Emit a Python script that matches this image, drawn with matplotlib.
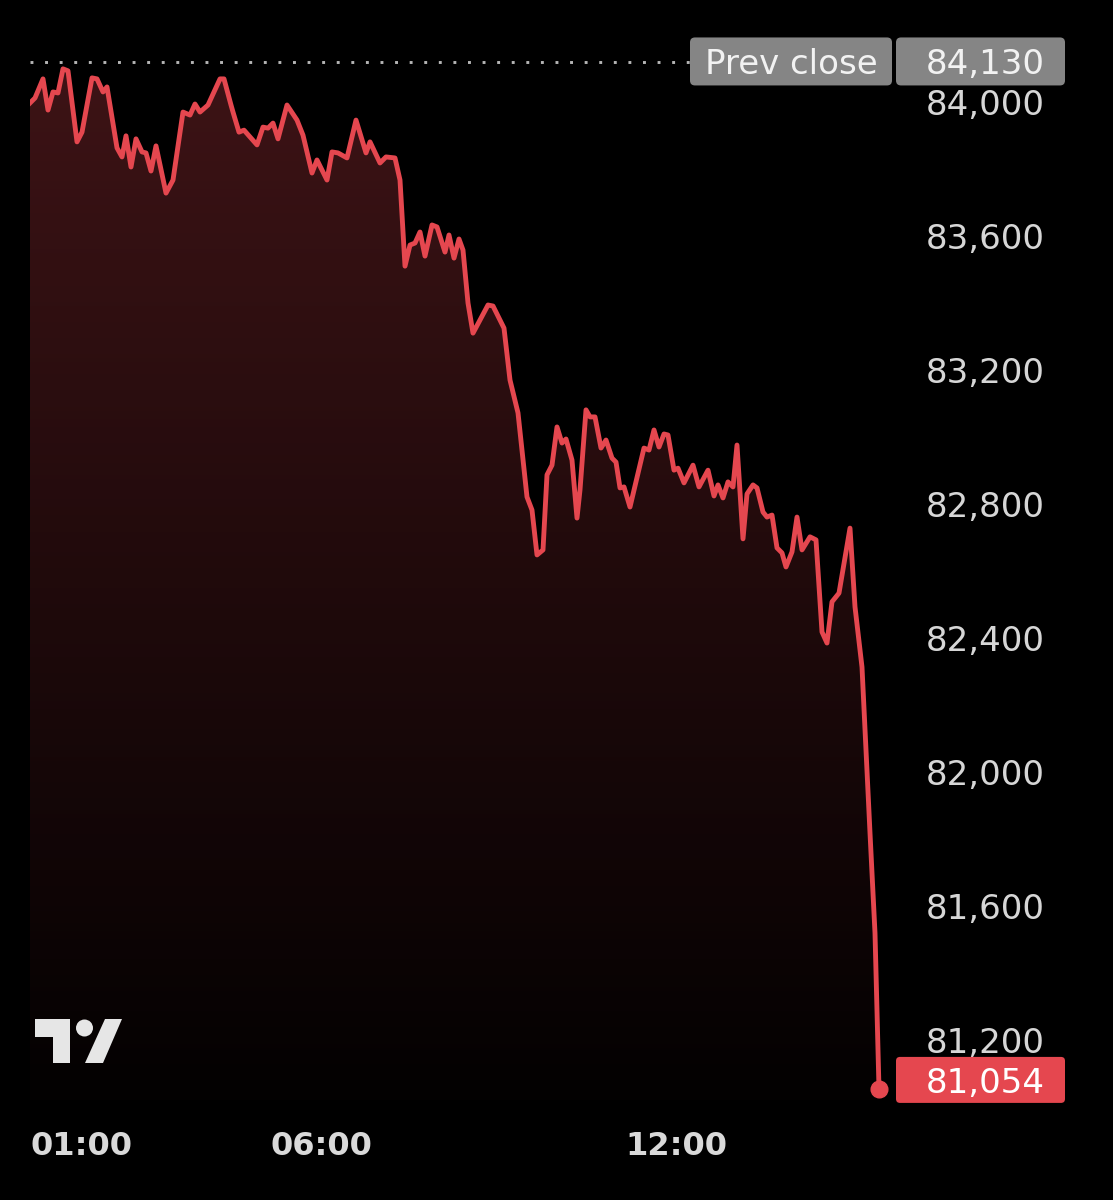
import numpy as np
import matplotlib.pyplot as plt
from matplotlib.patches import Polygon, Circle, FancyBboxPatch

# intraday trace (pos = bar position along the time axis)
pos = [30, 35, 43, 48, 53, 58, 63, 68, 77, 82, 92, 97, 103, 107, 117, 122, 126, 131,
       136, 142, 146, 151, 156, 166, 173, 183, 190, 195, 200, 208, 220, 224, 231, 233,
       239, 244, 257, 263, 268, 273, 278, 287, 297, 303, 312, 317, 327, 332, 338, 347,
       356, 366, 370, 380, 386, 395, 400, 405, 410, 415, 420, 425, 432, 437, 445, 449,
       454, 459, 463, 468, 473, 480, 488, 493, 504, 510, 518, 527, 532, 537, 543, 547,
       552, 557, 562, 566, 572, 577, 580, 586, 590, 595, 601, 606, 612, 616, 620, 624,
       630, 644, 649, 654, 659, 664, 668, 674, 678, 684, 693, 699, 708, 714, 718, 723,
       728, 733, 737, 743, 747, 753, 757, 763, 767, 772, 777, 782, 786, 792, 797, 802,
       810, 816, 822, 827, 832, 839, 850, 855, 862, 870, 875, 879]
price = [83997, 84012, 84069, 83976, 84030, 84027, 84099, 84093, 83881, 83910, 84072,
         84069, 84030, 84045, 83863, 83836, 83899, 83806, 83890, 83851, 83848, 83794,
         83869, 83728, 83767, 83970, 83961, 83994, 83970, 83991, 84069, 84069, 83991,
         83970, 83910, 83916, 83872, 83925, 83922, 83937, 83890, 83991, 83946, 83901,
         83788, 83827, 83767, 83851, 83848, 83833, 83946, 83848, 83881, 83818, 83836,
         83833, 83767, 83510, 83573, 83579, 83612, 83540, 83633, 83627, 83552, 83603,
         83534, 83591, 83558, 83400, 83310, 83349, 83394, 83391, 83325, 83170, 83072,
         82821, 82782, 82648, 82663, 82887, 82916, 83030, 82982, 82994, 82931, 82758,
         82842, 83081, 83060, 83060, 82967, 82991, 82937, 82925, 82848, 82851, 82791,
         82967, 82961, 83021, 82970, 83009, 83006, 82901, 82907, 82863, 82916, 82851,
         82901, 82824, 82857, 82818, 82866, 82851, 82976, 82696, 82830, 82857, 82848,
         82776, 82761, 82767, 82669, 82654, 82612, 82657, 82761, 82663, 82702, 82693,
         82418, 82385, 82508, 82534, 82728, 82493, 82313, 81818, 81519, 81054]

prev_close = 84130
yticks = [81200, 81600, 82000, 82400, 82800, 83200, 83600, 84000]
xtick_pos = [82, 321, 676]
xtick_labels = ['01:00', '06:00', '12:00']

W, H = 1113, 1200
red = '#E5474F'
bg = 'black'

fig = plt.figure(figsize=(W / 100, H / 100), dpi=100, facecolor=bg)
ax = fig.add_axes([30 / W, 1 - 1100 / H, 870 / W, 1060 / H], facecolor=bg)

ymax = 84000 + (102 - 40) * 400 / 134
ymin = 84000 - (1100 - 102) * 400 / 134
ax.set_xlim(30, 900)
ax.set_ylim(ymin, ymax)

# gradient fill under the line
top_c = np.array([0.24, 0.075, 0.085])
bot_c = np.array([0.012, 0.004, 0.005])
v = np.linspace(1, 0, 256)[:, None, None]
grad = bot_c + v * (top_c - bot_c)
grad = np.repeat(grad, 2, axis=1)
im = ax.imshow(grad, extent=[pos[0], pos[-1], ymin, max(price)], aspect='auto',
               origin='upper', zorder=1)
verts = [(pos[0], ymin)] + list(zip(pos, price)) + [(pos[-1], ymin)]
clip = Polygon(verts, facecolor='none', edgecolor='none')
ax.add_patch(clip)
im.set_clip_path(clip)

ax.plot(pos, price, color=red, lw=3.5, solid_joinstyle='round', zorder=3)
ax.plot(pos[-1], price[-1], 'o', color=red, ms=12, zorder=4)

# previous close dotted line
ax.plot([30, 690], [prev_close - 10, prev_close - 10], color='#b5b5b5', lw=2.1,
        linestyle=(0, (1, 4)), dash_capstyle='butt', zorder=2)

for s in ax.spines.values():
    s.set_visible(False)

ax.yaxis.tick_right()
ax.set_yticks(yticks)
ax.set_yticklabels([f'{t:,}' for t in yticks])
ax.tick_params(axis='y', length=0, pad=104, labelsize=24.5, labelcolor='#d6d6d6')
for lab in ax.get_yticklabels():
    lab.set_horizontalalignment('right')

ax.set_xticks(xtick_pos)
ax.set_xticklabels(xtick_labels, fontweight='bold')
ax.tick_params(axis='x', length=0, pad=22, labelsize=23, labelcolor='#d9d9d9')

# overlay in pixel coords for labels and logo
deco = fig.add_axes([0, 0, 1, 1], facecolor='none', zorder=5)
deco.set_xlim(0, W)
deco.set_ylim(H, 0)
deco.axis('off')


def py(val):
    return H - ax.transData.transform((30, val))[1]


yc = py(prev_close) + 3
deco.add_patch(FancyBboxPatch((690, yc - 24), 202, 48, boxstyle='round,pad=0,rounding_size=5',
                              facecolor='#858585', edgecolor='none'))
deco.add_patch(FancyBboxPatch((896, yc - 24), 169, 48, boxstyle='round,pad=0,rounding_size=5',
                              facecolor='#858585', edgecolor='none'))
deco.text(791, yc, 'Prev close', color='#f2f2f2', fontsize=24.5, ha='center', va='center_baseline')
deco.text(1045, yc, f'{prev_close:,}', color='#f2f2f2', fontsize=24.5, ha='right',
          va='center_baseline')

yl = py(price[-1]) - 9
deco.add_patch(FancyBboxPatch((896, yl - 23), 169, 46, boxstyle='round,pad=0,rounding_size=4',
                              facecolor=red, edgecolor='none'))
deco.text(1045, yl, f'{price[-1]:,}', color='white', fontsize=24.5, ha='right',
          va='center_baseline')

# TradingView logo
logo_c = '#e6e6e6'
deco.add_patch(Polygon([(35, 1019), (70, 1019), (70, 1063), (53, 1063), (53, 1037), (35, 1037)],
                       facecolor=logo_c, edgecolor='none'))
deco.add_patch(Circle((84.5, 1028), 8.5, facecolor=logo_c, edgecolor='none'))
deco.add_patch(Polygon([(105, 1019), (122, 1019), (103, 1063), (85, 1063)],
                       facecolor=logo_c, edgecolor='none'))

fig.savefig('out.png', dpi=100, facecolor=bg)
